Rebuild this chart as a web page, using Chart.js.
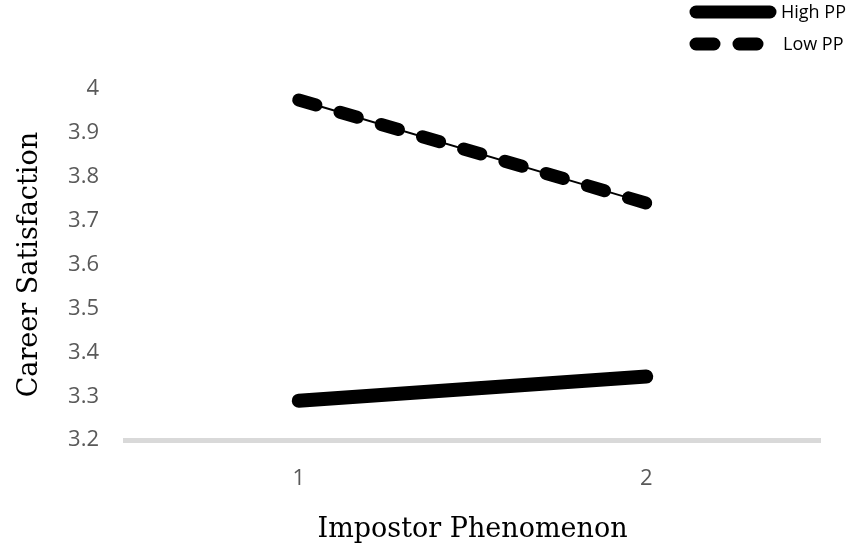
<!DOCTYPE html>
<html>
<head>
<meta charset="utf-8">
<script src="https://cdn.jsdelivr.net/npm/chart.js@4/dist/chart.umd.min.js"></script>
<style>
  html, body { margin: 0; padding: 0; background: #fff; }
  #wrap { width: 854px; height: 546px; }
</style>
</head>
<body>
<div id="wrap"><canvas id="slopes"></canvas></div>
<script>
// impostor phenomenon levels on the x axis
const categories = ['1', '2'];
const highPP = [3.29, 3.345];
const lowPP = [3.975, 3.74];
const seriesNames = ['High PP', 'Low PP'];
const yTicks = [3.2, 3.3, 3.4, 3.5, 3.6, 3.7, 3.8, 3.9, 4];

// simple legend in the top right corner, like the original figure
const cornerLegend = {
  id: 'cornerLegend',
  afterDraw(chart) {
    const ctx = chart.ctx;
    const rows = [
      { y: 12, x1: 696, x2: 770, textX: 781, dash: [] },
      { y: 44, x1: 696, x2: 761, textX: 783, dash: [18, 25] }
    ];
    ctx.save();
    rows.forEach((r, i) => {
      ctx.strokeStyle = '#000';
      ctx.lineWidth = 13;
      ctx.lineCap = 'round';
      ctx.setLineDash(r.dash);
      ctx.beginPath();
      ctx.moveTo(r.x1, r.y);
      ctx.lineTo(r.x2, r.y);
      ctx.stroke();
      ctx.setLineDash([]);
      ctx.fillStyle = '#000';
      ctx.font = '18px "Open Sans"';
      ctx.textBaseline = 'middle';
      ctx.fillText(seriesNames[i], r.textX, r.y + 1);
    });
    ctx.restore();
  }
};

const ctx = document.getElementById('slopes').getContext('2d');
const chart = new Chart(ctx, {
  type: 'line',
  data: {
    labels: categories,
    datasets: [
      {
        label: seriesNames[0],
        data: highPP,
        borderColor: '#000',
        borderWidth: 14,
        borderCapStyle: 'round',
        pointRadius: 0
      },
      {
        label: seriesNames[1] + ' (thin)',
        data: lowPP,
        borderColor: '#000',
        borderWidth: 2,
        pointRadius: 0
      },
      {
        label: seriesNames[1],
        data: lowPP,
        borderColor: '#000',
        borderWidth: 13,
        borderDash: [18, 25],
        borderCapStyle: 'round',
        pointRadius: 0
      }
    ]
  },
  options: {
    responsive: true,
    maintainAspectRatio: false,
    animation: false,
    layout: { padding: { top: 89, right: 34, left: 0, bottom: 0 } },
    plugins: {
      legend: { display: false },
      tooltip: { enabled: false }
    },
    scales: {
      x: {
        offset: true,
        grid: { display: false, drawTicks: false },
        border: { display: true, color: '#d9d9d9', width: 5 },
        ticks: { color: '#595959', font: { family: 'Open Sans', size: 22 }, padding: 25 },
        title: {
          display: true,
          text: 'Impostor Phenomenon',
          color: '#000',
          font: { family: 'DejaVu Serif', size: 27 },
          padding: { top: -3, bottom: 0 }
        }
      },
      y: {
        min: 3.2,
        max: 4,
        afterBuildTicks(axis) {
          axis.ticks = yTicks.map(v => ({ value: v }));
        },
        grid: { display: false, drawTicks: false },
        border: { display: false },
        ticks: {
          color: '#595959',
          font: { family: 'Open Sans', size: 22 },
          padding: 26,
          callback: v => String(Math.round(v * 10) / 10)
        },
        title: {
          display: true,
          text: 'Career Satisfaction',
          color: '#000',
          font: { family: 'DejaVu Serif', size: 27 },
          padding: { top: 14, bottom: 0 }
        },
        afterFit(axis) { axis.width = 125; }
      }
    }
  },
  plugins: [cornerLegend]
});
</script>
</body>
</html>
